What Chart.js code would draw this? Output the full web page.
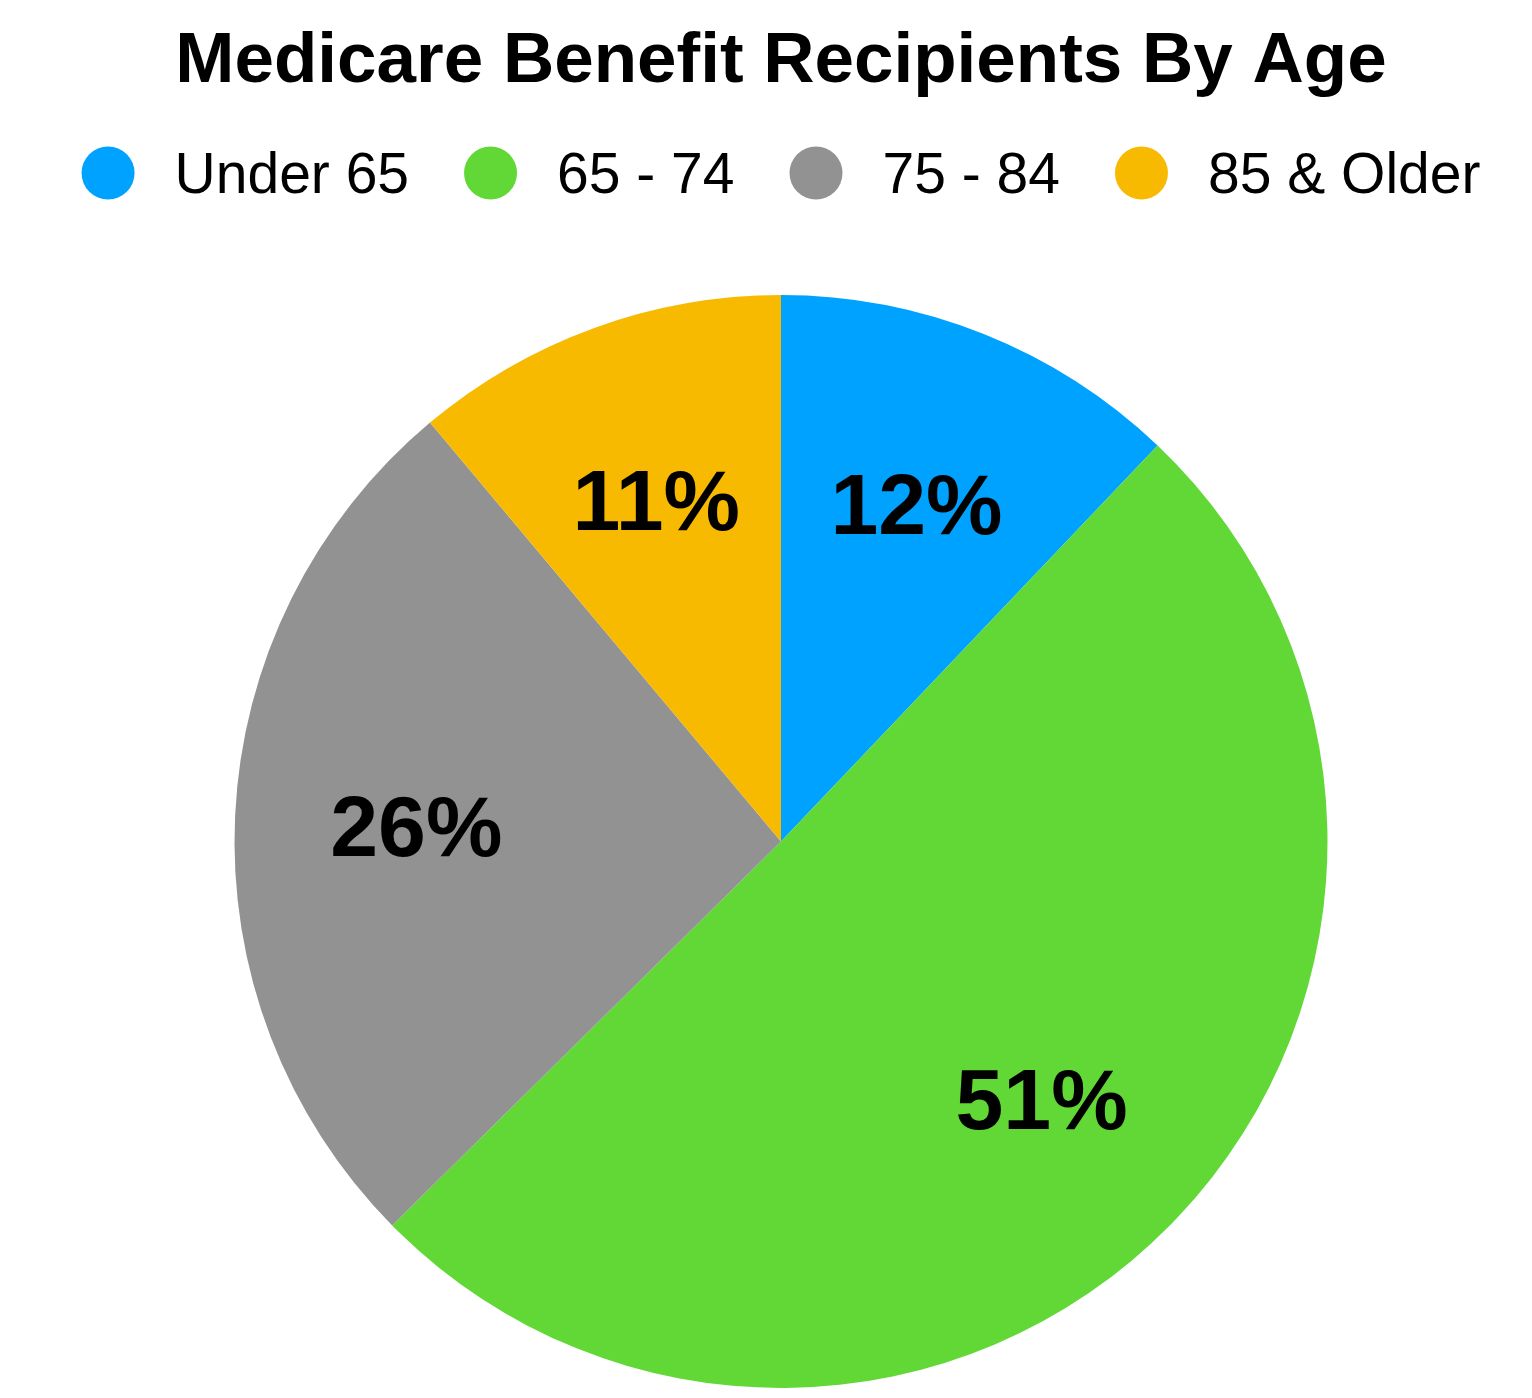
<!DOCTYPE html>
<html>
<head>
<meta charset="utf-8">
<script src="https://cdn.jsdelivr.net/npm/chart.js@4"></script>
<style>
html,body{margin:0;padding:0;background:#fff;}
#wrap{width:1532px;height:1398px;position:relative;}
</style>
</head>
<body>
<div id="wrap"><canvas id="c" width="1532" height="1398"></canvas></div>
<script>
const titleText = "Medicare Benefit Recipients By Age";
const categories = ["Under 65", "65 - 74", "75 - 84", "85 & Older"];
const values = [12.1, 50.5, 26.3, 11.1];
const colors = ["#00A2FF", "#61D836", "#929292", "#F8BA00"];

const FONT = "'Liberation Sans', Arial, Helvetica, sans-serif";

const headerPlugin = {
  id: 'header',
  afterDraw(chart) {
    const ctx = chart.ctx;
    const cx = (chart.chartArea.left + chart.chartArea.right) / 2;
    ctx.save();
    ctx.fillStyle = '#000';
    ctx.font = "bold 71px " + FONT;
    ctx.textAlign = 'center';
    ctx.textBaseline = 'alphabetic';
    ctx.fillText(titleText, cx, 82);
    // legend
    ctx.font = "57px " + FONT;
    const labels = chart.data.labels;
    const bg = chart.data.datasets[0].backgroundColor;
    const widths = labels.map(l => ctx.measureText(l).width);
    const itemLead = 93, gap = 55, r = 26.5;
    let total = widths.reduce((a, w) => a + itemLead + w, 0) + gap * (labels.length - 1);
    let x = cx - total / 2;
    ctx.textAlign = 'left';
    labels.forEach((l, i) => {
      ctx.fillStyle = bg[i];
      ctx.beginPath();
      ctx.arc(x + r, 173, r, 0, Math.PI * 2);
      ctx.fill();
      ctx.fillStyle = '#000';
      ctx.fillText(l, x + itemLead, 193);
      x += itemLead + widths[i] + gap;
    });
    ctx.restore();
  }
};

const labelPlugin = {
  id: 'sliceLabels',
  afterDatasetsDraw(chart) {
    const ctx = chart.ctx;
    const meta = chart.getDatasetMeta(0);
    const data = chart.data.datasets[0].data;
    ctx.save();
    ctx.fillStyle = '#000';
    ctx.font = "bold 86px " + FONT;
    ctx.textAlign = 'center';
    ctx.textBaseline = 'middle';
    meta.data.forEach((arc, i) => {
      const p = arc.getProps(['x', 'y', 'startAngle', 'endAngle', 'outerRadius'], true);
      const mid = (p.startAngle + p.endAngle) / 2;
      const rr = p.outerRadius * 0.668;
      ctx.fillText(Math.round(data[i]) + '%', p.x + Math.cos(mid) * rr, p.y + Math.sin(mid) * rr + 8);
    });
    ctx.restore();
  }
};

new Chart(document.getElementById('c'), {
  type: 'pie',
  data: {
    labels: categories,
    datasets: [{
      data: values,
      backgroundColor: colors,
      borderWidth: 0,
      hoverOffset: 0
    }]
  },
  options: {
    responsive: false,
    devicePixelRatio: 1,
    animation: false,
    layout: { padding: { top: 295, left: 30, right: 0, bottom: 10 } },
    plugins: {
      legend: { display: false },
      title: { display: false },
      tooltip: { enabled: false }
    }
  },
  plugins: [headerPlugin, labelPlugin]
});
</script>
</body>
</html>
